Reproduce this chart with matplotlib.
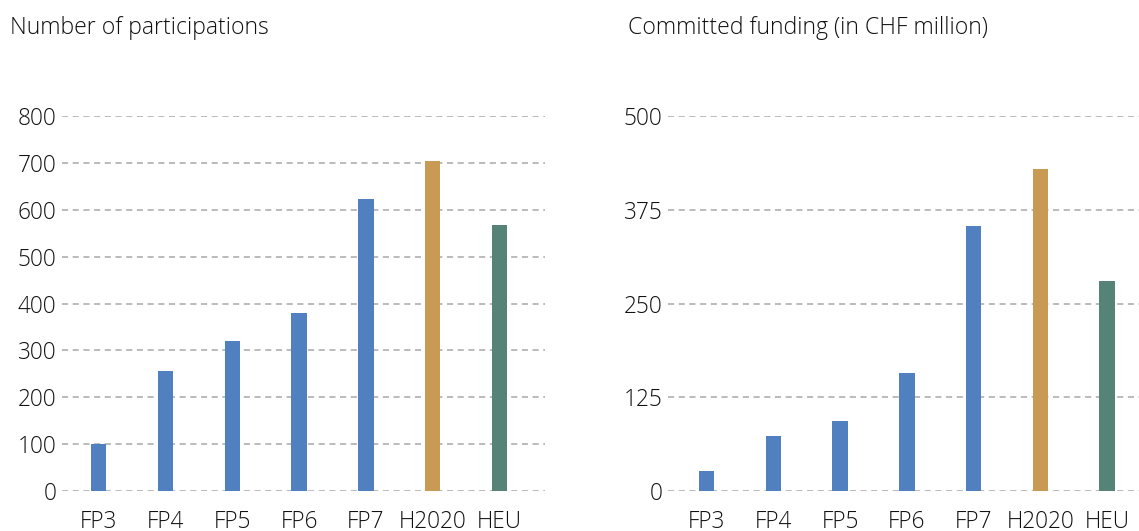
import numpy as np
import matplotlib.pyplot as plt

plt.rcParams['font.family'] = ['Open Sans', 'DejaVu Sans']

# Framework programmes
programmes = ['FP3', 'FP4', 'FP5', 'FP6', 'FP7', 'H2020', 'HEU']

# Number of participations per programme
participations = [100, 255, 320, 380, 623, 704, 567]

# Committed funding in CHF million
funding = [27, 73, 94, 158, 353, 429, 280]

blue = '#5180c1'
gold = '#c99a54'
teal = '#558377'
bar_colors = [blue] * 5 + [gold, teal]

fig = plt.figure(figsize=(11.39, 5.31), dpi=100)
ax1 = fig.add_axes([0.0544, 0.0753, 0.4241, 0.7062])
ax2 = fig.add_axes([0.5865, 0.0753, 0.4135, 0.7062])

x = np.arange(len(programmes))


def style(ax, ticks, xlim):
    ax.set_xlim(*xlim)
    ax.set_ylim(ticks[0], ticks[-1])
    ax.set_yticks(ticks)
    ax.set_xticks(x)
    ax.set_xticklabels(programmes)
    for s in ax.spines.values():
        s.set_visible(False)
    ax.yaxis.grid(True, color='#a8a8a8', linestyle=(0, (4, 3)), linewidth=1.1)
    ax.set_axisbelow(True)
    ax.tick_params(axis='y', length=0, pad=4, labelsize=16.3, labelcolor='#111111')
    ax.tick_params(axis='x', length=0, pad=14, labelsize=16.3, labelcolor='#111111')
    for lab in ax.get_xticklabels() + ax.get_yticklabels():
        lab.set_fontweight('light')


ax1.bar(x, participations, width=0.23, color=bar_colors, zorder=3)
style(ax1, [0, 100, 200, 300, 400, 500, 600, 700, 800], (-0.55, 6.68))

ax2.bar(x, funding, width=0.23, color=bar_colors, zorder=3)
style(ax2, [0, 125, 250, 375, 500], (-0.58, 6.48))

fig.text(0.009, 0.947, 'Number of participations', fontsize=16.6,
         fontweight='light', color='#111111', va='center', ha='left')
fig.text(0.551, 0.947, 'Committed funding (in CHF million)', fontsize=16.6,
         fontweight='light', color='#111111', va='center', ha='left')

fig.savefig('out.png', dpi=100)
